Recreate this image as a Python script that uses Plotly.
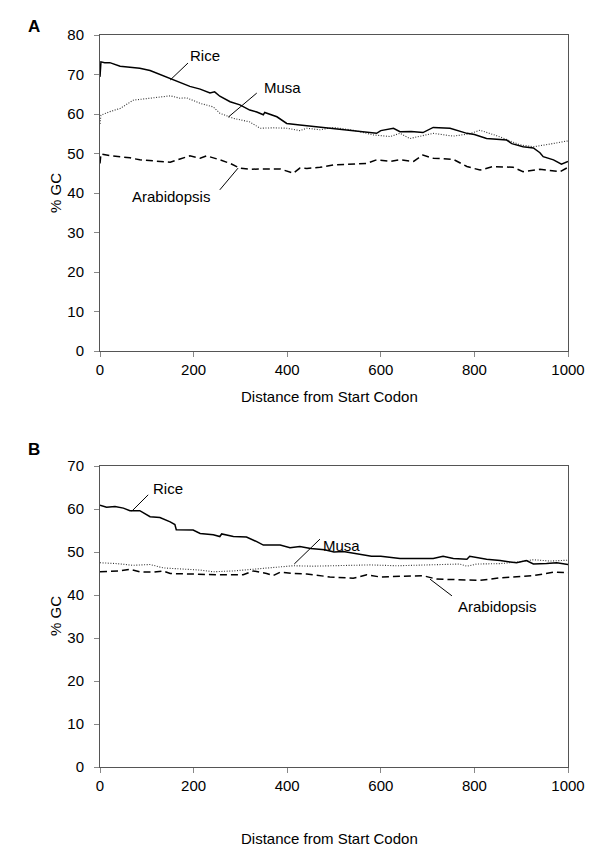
import plotly.graph_objects as go

# ---------------- Panel A data ----------------
rice_a_x = [0, 2, 10, 21, 43, 64, 85, 107, 128, 150, 171, 192, 214, 235, 245, 256, 278, 299, 320, 335,
            349, 352, 378, 399, 427, 442, 470, 499, 541, 570, 591, 600, 627, 641, 665, 690, 712, 748, 784,
            800, 826, 869, 880, 904, 926, 940, 947, 969, 986, 1000]
rice_a_y = [69.4, 73.2, 73.0, 73.0, 72.1, 71.8, 71.6, 71.0, 70.0, 69.0, 67.8, 67.0, 66.3, 65.3, 65.6, 64.5,
            63.1, 62.3, 61.0, 60.5, 59.8, 60.4, 59.3, 57.6, 57.2, 57.0, 56.8, 56.4, 55.7, 55.3, 55.1, 55.8,
            56.4, 55.5, 55.6, 55.3, 56.6, 56.4, 55.1, 54.8, 53.8, 53.4, 52.5, 51.7, 51.4, 50.2, 49.2, 48.4,
            47.3, 48.0]

musa_a_x = [0, 2, 21, 43, 71, 107, 150, 171, 185, 214, 242, 256, 285, 320, 342, 370, 399, 427, 442, 470,
            499, 541, 584, 620, 641, 662, 690, 712, 755, 790, 812, 855, 897, 926, 962, 1000]
musa_a_y = [57.5, 59.7, 60.6, 61.4, 63.5, 64.0, 64.6, 64.0, 64.1, 62.7, 61.8, 60.2, 58.9, 58.0, 56.4, 56.5,
            56.4, 55.8, 56.4, 56.0, 56.6, 55.9, 54.7, 54.3, 55.1, 53.8, 54.5, 55.1, 54.4, 55.0, 55.9, 54.2,
            52.2, 51.7, 52.4, 53.2]

arab_a_x = [0, 2, 20, 43, 64, 85, 107, 128, 150, 171, 192, 214, 228, 256, 278, 299, 320, 342, 385, 413,
            427, 442, 470, 499, 541, 570, 591, 620, 641, 670, 690, 712, 755, 784, 812, 840, 883, 904, 940,
            983, 1000]
arab_a_y = [47.5, 49.9, 49.5, 49.2, 48.9, 48.4, 48.2, 47.9, 47.8, 48.6, 49.4, 48.8, 49.4, 48.4, 47.5, 46.3,
            46.0, 46.1, 46.1, 45.0, 46.3, 46.2, 46.5, 47.1, 47.3, 47.5, 48.4, 48.0, 48.4, 48.0, 49.6, 48.8,
            48.5, 46.7, 45.8, 46.7, 46.5, 45.4, 46.0, 45.4, 46.5]

# ---------------- Panel B data ----------------
rice_b_x = [0, 14, 32, 50, 64, 85, 107, 128, 150, 160, 163, 199, 214, 242, 256, 260, 285, 313, 335, 349,
            385, 406, 427, 450, 480, 500, 520, 550, 580, 600, 620, 641, 712, 733, 755, 784, 790, 826, 855,
            890, 911, 926, 954, 976, 1000]
rice_b_y = [60.9, 60.4, 60.6, 60.2, 59.6, 59.6, 58.2, 58.0, 57.0, 56.4, 55.2, 55.1, 54.3, 54.0, 53.6, 54.2,
            53.6, 53.5, 52.4, 51.6, 51.6, 51.0, 51.3, 50.8, 50.5, 50.0, 50.1, 49.5, 49.0, 49.0, 48.8, 48.5,
            48.5, 49.0, 48.5, 48.3, 49.0, 48.3, 48.0, 47.5, 48.0, 47.2, 47.3, 47.5, 47.1]

musa_b_x = [0, 36, 71, 107, 135, 150, 214, 242, 285, 328, 370, 385, 413, 455, 527, 577, 634, 705, 769, 784,
            805, 855, 897, 926, 962, 1000]
musa_b_y = [47.5, 47.3, 46.9, 47.1, 46.3, 46.2, 45.8, 45.4, 45.6, 46.0, 46.4, 46.5, 46.8, 46.7, 46.8, 47.0,
            46.8, 47.0, 47.2, 46.7, 47.2, 47.3, 47.7, 48.2, 47.9, 48.1]

arab_b_x = [0, 43, 64, 85, 114, 135, 150, 214, 256, 306, 328, 356, 370, 385, 413, 442, 491, 541, 570, 598,
            655, 690, 719, 755, 812, 855, 926, 969, 1000]
arab_b_y = [45.4, 45.6, 46.0, 45.4, 45.3, 45.6, 45.0, 44.8, 44.7, 44.7, 45.6, 45.0, 44.5, 45.3, 45.0, 44.9,
            44.2, 43.9, 44.7, 44.2, 44.4, 44.5, 43.7, 43.6, 43.4, 44.0, 44.5, 45.3, 45.2]

x_ticks = [0, 200, 400, 600, 800, 1000]
y_ticks_a = [0, 10, 20, 30, 40, 50, 60, 70, 80]
y_ticks_b = [0, 10, 20, 30, 40, 50, 60, 70]

FONT = "Arial, Liberation Sans, sans-serif"
FS = 15
OFF = 8                     # page body margin in the browser
W, H = 600 - OFF, 857 - OFF

def px_x(px):
    return (px - OFF) / W

def px_y(py):
    return 1 - (py - OFF) / H

fig = go.Figure()

def add_series(xs, ys, xa, ya, dash, width, color):
    fig.add_trace(go.Scatter(x=xs, y=ys, mode="lines", xaxis=xa, yaxis=ya,
                             line=dict(color=color, width=width, dash=dash),
                             showlegend=False, hoverinfo="skip"))

add_series(musa_a_x, musa_a_y, "x", "y", "1px,1.6px", 1.1, "#333")
add_series(arab_a_x, arab_a_y, "x", "y", "7px,4px", 1.5, "#000")
add_series(rice_a_x, rice_a_y, "x", "y", "solid", 1.5, "#000")

add_series(musa_b_x, musa_b_y, "x2", "y2", "1px,1.6px", 1.1, "#333")
add_series(arab_b_x, arab_b_y, "x2", "y2", "7px,4px", 1.5, "#000")
add_series(rice_b_x, rice_b_y, "x2", "y2", "solid", 1.5, "#000")

xdom = [px_x(100), px_x(568)]
ydom_a = [px_y(351), px_y(35)]
ydom_b = [px_y(767), px_y(466)]

axis_common = dict(showgrid=False, zeroline=False, ticks="outside", ticklen=5, tickcolor="#888",
                   showline=True, linecolor="#555", linewidth=1, mirror=True, automargin=False,
                   tickfont=dict(family=FONT, size=FS, color="#000"))

fig.update_layout(
    template="none",
    width=W, height=H, margin=dict(l=0, r=0, t=0, b=0, pad=0),
    paper_bgcolor="white", plot_bgcolor="white",
    xaxis=dict(domain=xdom, range=[0, 1000], tickvals=x_ticks, anchor="y", **axis_common),
    yaxis=dict(domain=ydom_a, range=[0, 80], tickvals=y_ticks_a, anchor="x", ticklabelstandoff=7, **axis_common),
    xaxis2=dict(domain=xdom, range=[0, 1000], tickvals=x_ticks, anchor="y2", **axis_common),
    yaxis2=dict(domain=ydom_b, range=[0, 70], tickvals=y_ticks_b, anchor="x2", ticklabelstandoff=7, **axis_common),
)

# callout lines (data coordinates)
callouts = [
    ("x", "y", 150, 68.6, 188, 72.9),
    ("x", "y", 274, 59.2, 335, 65.3),
    ("x", "y", 256, 40.8, 295, 46.3),
    ("x2", "y2", 68, 59.5, 103, 63.3),
    ("x2", "y2", 415, 47.2, 470, 53.0),
    ("x2", "y2", 705, 43.7, 752, 39.8),
]
for xr, yr, x0, y0, x1, y1 in callouts:
    fig.add_shape(type="line", xref=xr, yref=yr, x0=x0, y0=y0, x1=x1, y1=y1,
                  line=dict(color="#000", width=1))

labels = [
    ("x", "y", 224, 74.7, "Rice"),
    ("x", "y", 389, 66.6, "Musa"),
    ("x", "y", 152, 39.0, "Arabidopsis"),
    ("x2", "y2", 145, 64.7, "Rice"),
    ("x2", "y2", 517, 51.4, "Musa"),
    ("x2", "y2", 848, 37.4, "Arabidopsis"),
]
for xr, yr, x, y, t in labels:
    fig.add_annotation(xref=xr, yref=yr, x=x, y=y, text=t, showarrow=False,
                       font=dict(family=FONT, size=FS, color="#000"))

# axis titles and panel letters (paper coordinates)
def paper_text(px, py, text, size=FS, bold=False, angle=0):
    fig.add_annotation(xref="paper", yref="paper", x=px_x(px), y=px_y(py),
                       text=("<b>%s</b>" % text) if bold else text,
                       showarrow=False, textangle=angle, xanchor="center", yanchor="middle",
                       font=dict(family=FONT, size=size, color="#000"))

paper_text(329, 396, "Distance from Start Codon")
paper_text(329, 838, "Distance from Start Codon")
paper_text(55, 193, "% GC", angle=-90)
paper_text(55, 616, "% GC", angle=-90)
paper_text(34, 26, "A", size=17, bold=True)
paper_text(34, 449, "B", size=17, bold=True)

fig.write_html("out.html")
